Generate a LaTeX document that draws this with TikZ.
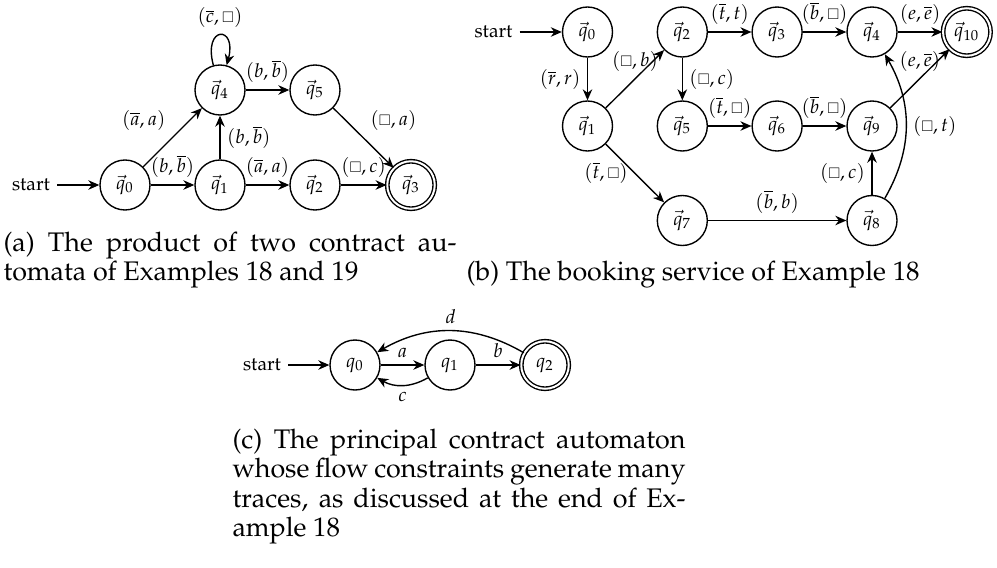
\documentclass[tikz,border=0pt]{standalone}
\usepackage[T1]{fontenc}
\usepackage{mathpazo}
\usepackage{amssymb}
\usetikzlibrary{arrows.meta,calc}
\newcommand{\ebox}{{\scriptstyle\square}}
\newcommand{\vq}[1]{\vec{q}_{#1}}
\newcommand{\ov}[1]{\overline{#1}}
\newcommand{\dfs}{\fontsize{7.7}{9}\selectfont}
\newcommand{\cfs}{\fontsize{10.75}{12.9}\selectfont}
\newcommand{\jline}[1]{\makebox[181.2pt][s]{#1}}
\begin{document}
\begin{tikzpicture}[x=0.4pt, y=0.4pt,
  >={Stealth[length=4.4pt,width=3.8pt,inset=1.4pt]},
  st/.style={circle, draw, line width=0.55pt, minimum size=20pt, inner sep=0pt, font=\dfs},
  acc/.style={st, double, double distance=0.8pt, minimum size=19pt},
  edge/.style={->, line width=0.55pt},
  lbl/.style={font=\dfs, inner sep=2.6pt},
  captext/.style={anchor=base west, inner sep=0pt, font=\cfs}]
\useasboundingbox (0,0) rectangle (997,-567);

% (a)
\node[st] (a0) at (125,-185) {$\vq0$};
\node[st] (a1) at (220,-185) {$\vq1$};
\node[st] (a2) at (315,-185) {$\vq2$};
\node[acc] (a3) at (411,-185) {$\vq3$};
\node[st] (a4) at (220,-90) {$\vq4$};
\node[st] (a5) at (315,-90) {$\vq5$};
\node[lbl, anchor=east] (as) at (57,-185) {start};
\draw[edge] (as) -- (a0);
\draw[edge] (a0) -- node[lbl, above] {$(b,\ov b)$} (a1);
\draw[edge] (a0) -- node[lbl, above left] {$(\ov a,a)$} (a4);
\draw[edge] (a1) -- node[lbl, right] {$(b,\ov b)$} (a4);
\draw[edge] (a1) -- node[lbl, above] {$(\ov a,a)$} (a2);
\draw[edge] (a2) -- node[lbl, above] {$(\ebox,c)$} (a3);
\draw[edge] (a4) -- node[lbl, above] {$(b,\ov b)$} (a5);
\draw[edge] (a5) -- node[lbl, above right] {$(\ebox,a)$} (a3);
\draw[edge] (a4) to[loop above] node[lbl, above] {$(\ov c,\ebox)$} (a4);

% (b)
\node[st] (b0) at (587.5,-32) {$\vq0$};
\node[st] (b1) at (587.5,-126) {$\vq1$};
\node[st] (b2) at (682.3,-32) {$\vq2$};
\node[st] (b3) at (777.1,-32) {$\vq3$};
\node[st] (b4) at (872,-32) {$\vq4$};
\node[acc] (b10) at (966.8,-32) {$\vq{10}$};
\node[st] (b5) at (682.3,-126) {$\vq5$};
\node[st] (b6) at (777.1,-126) {$\vq6$};
\node[st] (b9) at (872,-126) {$\vq9$};
\node[st] (b7) at (682.3,-220.5) {$\vq7$};
\node[st] (b8) at (872,-220.5) {$\vq8$};
\node[lbl, anchor=east] (bs) at (519.5,-32) {start};
\draw[edge] (bs) -- (b0);
\draw[edge] (b0) -- node[lbl, left] {$(\ov r,r)$} (b1);
\draw[edge] (b1) -- node[lbl, above] {$(\ebox,b)$} (b2);
\draw[edge] (b2) -- node[lbl, above] {$(\ov t,t)$} (b3);
\draw[edge] (b3) -- node[lbl, above] {$(\ov b,\ebox)$} (b4);
\draw[edge] (b4) -- node[lbl, above] {$(e,\ov e)$} (b10);
\draw[edge] (b2) -- node[lbl, right] {$(\ebox,c)$} (b5);
\draw[edge] (b5) -- node[lbl, above] {$(\ov t,\ebox)$} (b6);
\draw[edge] (b6) -- node[lbl, above] {$(\ov b,\ebox)$} (b9);
\draw[edge] (b9) -- node[lbl, above] {$(e,\ov e)$} (b10);
\draw[edge] (b1) -- node[lbl, left] {$(\ov t,\ebox)$} (b7);
\draw[edge] (b7) -- node[lbl, above] {$(\ov b,b)$} (b8);
\draw[edge] (b8) -- node[lbl, left] {$(\ebox,c)$} (b9);
\draw[edge] (b8) to[bend right=30] node[lbl, right] {$(\ebox,t)$} (b4);

% (c)
\node[st] (c0) at (355,-365) {$q_0$};
\node[st] (c1) at (450,-365) {$q_1$};
\node[acc] (c2) at (545,-365) {$q_2$};
\node[lbl, anchor=east] (cs) at (288,-365) {start};
\draw[edge] (cs) -- (c0);
\draw[edge] (c0) -- node[lbl, above] {$a$} (c1);
\draw[edge] (c1) -- node[lbl, above] {$b$} (c2);
\draw[edge] (c2) to[bend right=30] node[lbl, above] {$d$} (c0);
\draw[edge] (c1) to[bend left=30] node[lbl, below] {$c$} (c0);

% captions
\node[captext] (capa1) at (3,-251) {\jline{(a) The product of two contract au-}};
\node[captext] (capa2) at (3,-280.5) {tomata of Examples 18 and 19};
\node[captext] (capb) at (466,-280.5) {(b) The booking service of Example 18};
\node[captext] (capc1) at (232,-448) {\jline{(c) The principal contract automaton}};
\node[captext] (capc2) at (232,-477.5) {\jline{whose flow constraints generate many}};
\node[captext] (capc3) at (232,-507) {\jline{traces, as discussed at the end of Ex-}};
\node[captext] (capc4) at (232,-536.5) {ample 18};
\end{tikzpicture}
\end{document}
